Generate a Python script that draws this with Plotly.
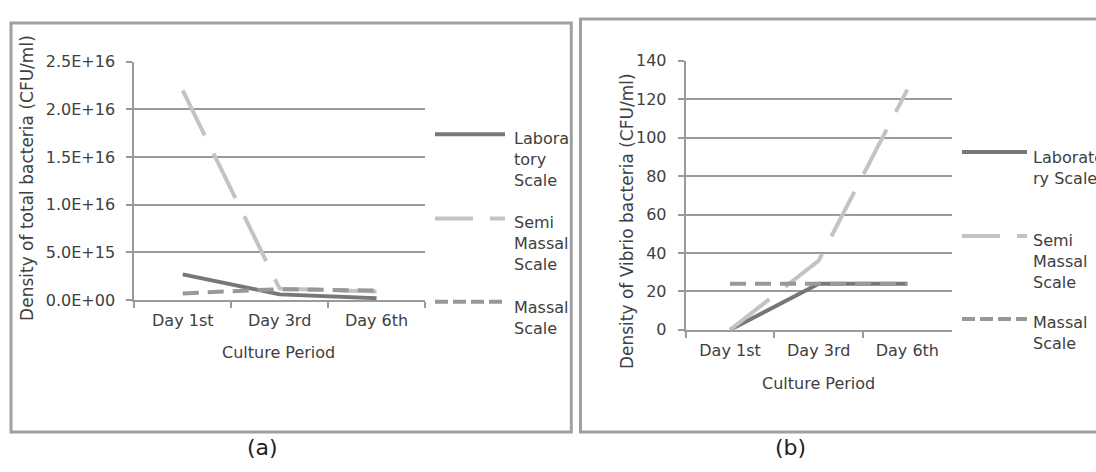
import plotly.graph_objects as go

W, H = 1096, 472

# ---------------- data ----------------
categories = ["Day 1st", "Day 3rd", "Day 6th"]
series_names = ["Laboratory Scale", "Semi Massal Scale", "Massal Scale"]
legend_text_a = ["Labora<br>tory<br>Scale", "Semi<br>Massal<br>Scale", "Massal<br>Scale"]
legend_text_b = ["Laborato<br>ry Scale", "Semi<br>Massal<br>Scale", "Massal<br>Scale"]

total_lab = [2.7e15, 0.6e15, 0.2e15]
total_semi = [2.2e16, 1.2e15, 0.9e15]
total_massal = [0.7e15, 1.15e15, 1.0e15]

vibrio_lab = [0, 24, 24]
vibrio_semi = [0, 36, 125]
vibrio_massal = [24, 24, 24]

total_tickvals = [0, 5e15, 1e16, 1.5e16, 2e16, 2.5e16]
total_ticktext = ["0.0E+00", "5.0E+15", "1.0E+16", "1.5E+16", "2.0E+16", "2.5E+16"]
vibrio_tickvals = [0, 20, 40, 60, 80, 100, 120, 140]

title_a_y = "Density of total bacteria (CFU/ml)"
title_b_y = "Density of Vibrio bacteria (CFU/ml)"
title_x = "Culture Period"
panel_labels = ["(a)", "(b)"]

# ---------------- styles ----------------
FONT = "DejaVu Sans"
TXT = "#404040"
GRID = "#9a9a9a"
colors = ["#777777", "#c3c3c3", "#989898"]
plot_dash = ["solid", "50px,20px", "16px,9px"]
leg_dash = ["solid", "38px,17px", "13px,5px"]
LW = 4


def px(x):
    return x / W


def py(y):
    return 1 - y / H


fig = go.Figure()

for i, (vals, name) in enumerate(zip([total_lab, total_semi, total_massal], series_names)):
    fig.add_trace(go.Scatter(x=categories, y=vals, mode="lines", name=name,
                             line=dict(color=colors[i], width=LW, dash=plot_dash[i]),
                             xaxis="x", yaxis="y", showlegend=False))
for i, (vals, name) in enumerate(zip([vibrio_lab, vibrio_semi, vibrio_massal], series_names)):
    fig.add_trace(go.Scatter(x=categories, y=vals, mode="lines", name=name,
                             line=dict(color=colors[i], width=LW, dash=plot_dash[i]),
                             xaxis="x2", yaxis="y2", showlegend=False))

xcommon = dict(type="category", range=[-0.5, 2.5], tickson="boundaries", ticks="outside",
               ticklen=6, tickwidth=2, tickcolor=GRID, showline=True, linecolor=GRID,
               linewidth=2, showgrid=False, zeroline=False, fixedrange=True,
               tickfont=dict(family=FONT, size=16, color=TXT), ticklabelstandoff=5)
ycommon = dict(ticks="outside", ticklen=6, tickwidth=2, tickcolor=GRID, showline=True,
               linecolor=GRID, linewidth=2, showgrid=True, gridcolor=GRID, gridwidth=2,
               zeroline=False, fixedrange=True,
               tickfont=dict(family=FONT, size=16, color=TXT), ticklabelstandoff=8)

fig.update_layout(
    width=W, height=H, margin=dict(l=0, r=0, t=0, b=0),
    paper_bgcolor="white", plot_bgcolor="white", showlegend=False,
    xaxis=dict(xcommon, domain=[px(134.3), px(425)], anchor="y"),
    yaxis=dict(ycommon, domain=[py(303.3), py(55)], anchor="x", range=[0, 2.5e16],
               tickvals=total_tickvals, ticktext=total_ticktext),
    xaxis2=dict(xcommon, domain=[px(685.7), px(951.7)], anchor="y2"),
    yaxis2=dict(ycommon, domain=[py(334.3), py(54)], anchor="x2", range=[0, 140],
                tickvals=vibrio_tickvals),
)

shapes = []
# frames
shapes.append(dict(type="rect", xref="paper", yref="paper", x0=px(11), x1=px(571.3),
                   y0=py(440.7), y1=py(14.5), line=dict(color="#a0a0a0", width=3)))
shapes.append(dict(type="rect", xref="paper", yref="paper", x0=px(580.5), x1=px(1110),
                   y0=py(440.7), y1=py(10.5), line=dict(color="#a0a0a0", width=3)))

annotations = []
# legends
leg_a_y = [130.5, 218.3, 305]
leg_a_text_y = [133.5, 221, 309]
leg_b_y = [149, 236.5, 323]
leg_b_text_y = [153, 240, 325]
for i in range(3):
    shapes.append(dict(type="line", xref="paper", yref="paper", x0=px(435), x1=px(505),
                       y0=py(leg_a_y[i]), y1=py(leg_a_y[i]),
                       line=dict(color=colors[i], width=LW, dash=leg_dash[i])))
    annotations.append(dict(xref="paper", yref="paper", x=px(512), y=py(leg_a_text_y[i] - 10.4),
                            xanchor="left", yanchor="top", align="left", showarrow=False,
                            text=legend_text_a[i], font=dict(family=FONT, size=16, color=TXT)))
    shapes.append(dict(type="line", xref="paper", yref="paper", x0=px(962), x1=px(1027),
                       y0=py(leg_b_y[i]), y1=py(leg_b_y[i]),
                       line=dict(color=colors[i], width=LW, dash=leg_dash[i])))
    annotations.append(dict(xref="paper", yref="paper", x=px(1031), y=py(leg_b_text_y[i] - 10.4),
                            xanchor="left", yanchor="top", align="left", showarrow=False,
                            text=legend_text_b[i], font=dict(family=FONT, size=16, color=TXT)))

# axis titles
annotations.append(dict(xref="paper", yref="paper", x=px(27), y=py(176), text=title_a_y,
                        textangle=-90, showarrow=False, xanchor="center", yanchor="middle",
                        font=dict(family=FONT, size=17, color=TXT)))
annotations.append(dict(xref="paper", yref="paper", x=px(627), y=py(221), text=title_b_y,
                        textangle=-90, showarrow=False, xanchor="center", yanchor="middle",
                        font=dict(family=FONT, size=17, color=TXT)))
annotations.append(dict(xref="paper", yref="paper", x=px(278), y=py(358), text=title_x,
                        showarrow=False, xanchor="center", yanchor="middle",
                        font=dict(family=FONT, size=16, color=TXT)))
annotations.append(dict(xref="paper", yref="paper", x=px(818), y=py(390), text=title_x,
                        showarrow=False, xanchor="center", yanchor="middle",
                        font=dict(family=FONT, size=16, color=TXT)))
# panel labels
annotations.append(dict(xref="paper", yref="paper", x=px(262.5), y=py(457), text=panel_labels[0],
                        showarrow=False, xanchor="center", yanchor="middle",
                        font=dict(family=FONT, size=22, color="#222222")))
annotations.append(dict(xref="paper", yref="paper", x=px(790), y=py(457), text=panel_labels[1],
                        showarrow=False, xanchor="center", yanchor="middle",
                        font=dict(family=FONT, size=22, color="#222222")))

fig.update_layout(shapes=shapes, annotations=annotations)
fig.write_html("out.html", config={"displayModeBar": False},
               post_script="document.body.style.margin='0';document.body.style.overflow='hidden';")
